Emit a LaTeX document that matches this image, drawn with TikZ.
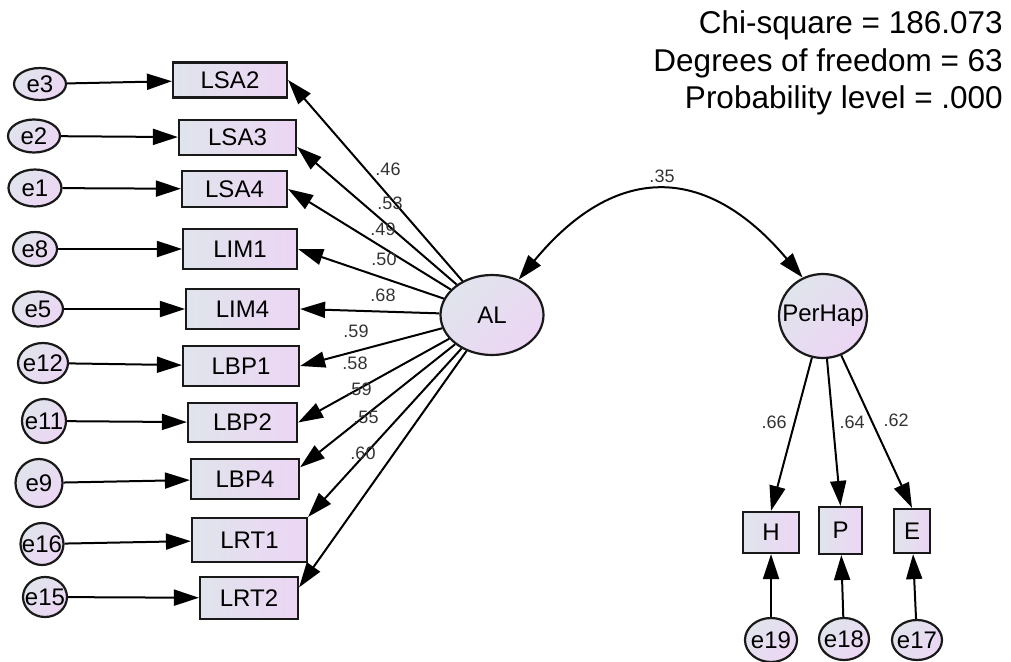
\documentclass[tikz,border=0pt]{standalone}
\usepackage{fontspec}
\setmainfont{Liberation Sans}
\usetikzlibrary{arrows.meta,shapes.geometric}
\definecolor{cA}{RGB}{224,228,236}
\definecolor{cB}{RGB}{236,214,244}
\newcommand\zb[1]{\makebox[0pt]{#1}}
\tikzset{
  obs/.style={draw=black!90, line width=2.2pt, rectangle, left color=cA, right color=cB,
    inner sep=0pt, font=\fontsize{24}{24}\selectfont},
  lat/.style={draw=black!90, line width=2.2pt, ellipse, top color=cA, bottom color=cB,
    shading angle=45, inner sep=0pt, font=\fontsize{24}{24}\selectfont},
  reg/.style={line width=2pt, -{Triangle[length=25pt,width=16pt]}},
  cov/.style={line width=2pt, {Triangle[length=25pt,width=16pt]}-{Triangle[length=25pt,width=16pt]}},
  lbl/.style={font=\fontsize{18}{18}\selectfont, text=black!80, inner sep=0pt},
  stat/.style={font=\fontsize{31.5}{31.5}\selectfont, anchor=base east, inner sep=0pt}
}
\begin{document}
\begin{tikzpicture}[x=1pt,y=-1pt]
\useasboundingbox (0,0) rectangle (1011,661);
% observed indicators
\node[obs, minimum width=114pt, minimum height=35pt] (LSA2) at (230,80) {LSA2};
\node[obs, minimum width=117pt, minimum height=35pt] (LSA3) at (237.5,137.5) {LSA3};
\node[obs, minimum width=105pt, minimum height=36pt] (LSA4) at (234.5,189) {LSA4};
\node[obs, minimum width=114pt, minimum height=40pt] (LIM1) at (240,249) {LIM1};
\node[obs, minimum width=113pt, minimum height=40pt] (LIM4) at (242.5,309) {LIM4};
\node[obs, minimum width=116pt, minimum height=40pt] (LBP1) at (241,366) {LBP1};
\node[obs, minimum width=109pt, minimum height=39pt] (LBP2) at (242.5,422.5) {LBP2};
\node[obs, minimum width=108pt, minimum height=40pt] (LBP4) at (245,479) {LBP4};
\node[obs, minimum width=115pt, minimum height=44pt] (LRT1) at (249.5,540) {LRT1};
\node[obs, minimum width=98pt, minimum height=42pt] (LRT2) at (249,598) {LRT2};
\node[obs, minimum width=56pt, minimum height=41pt] (H) at (771,532.5) {H};
\node[obs, minimum width=43pt, minimum height=47pt] (P) at (840.5,530.5) {P};
\node[obs, minimum width=36pt, minimum height=44pt] (E) at (912,531) {E};
% errors
\node[lat, minimum width=52pt, minimum height=32pt] (e3) at (40,84) {\zb{e3}};
\node[lat, minimum width=52pt, minimum height=33pt] (e2) at (34,136) {\zb{e2}};
\node[lat, minimum width=53pt, minimum height=37pt] (e1) at (35,188) {\zb{e1}};
\node[lat, minimum width=44pt, minimum height=34pt] (e8) at (35,249) {\zb{e8}};
\node[lat, minimum width=50pt, minimum height=35pt] (e5) at (38,309) {\zb{e5}};
\node[lat, minimum width=50pt, minimum height=40pt] (e12) at (43,363) {\zb{e12}};
\node[lat, minimum width=44pt, minimum height=44pt] (e11) at (44,421) {\zb{e11}};
\node[lat, minimum width=47pt, minimum height=48pt] (e9) at (39,483) {\zb{e9}};
\node[lat, minimum width=43pt, minimum height=42pt] (e16) at (42,544) {\zb{e16}};
\node[lat, minimum width=44pt, minimum height=40pt] (e15) at (45,597) {\zb{e15}};
\node[lat, minimum width=52pt, minimum height=44pt] (e19) at (771,640) {\zb{e19}};
\node[lat, minimum width=50pt, minimum height=42pt] (e18) at (844,639) {\zb{e18}};
\node[lat, minimum width=50pt, minimum height=40pt] (e17) at (917,640) {\zb{e17}};
% latent factors
\node[lat, minimum width=103pt, minimum height=80pt] (AL) at (492,315) {\zb{AL}};
\node[lat, minimum width=88pt, minimum height=84pt] (PerHap) at (823,316) {\zb{PerHap}};
% error paths
\draw[reg] (e3) -- (LSA2);
\draw[reg] (e2) -- (LSA3);
\draw[reg] (e1) -- (LSA4);
\draw[reg] (e8) -- (LIM1);
\draw[reg] (e5) -- (LIM4);
\draw[reg] (e12) -- (LBP1);
\draw[reg] (e11) -- (LBP2);
\draw[reg] (e9) -- (LBP4);
\draw[reg] (e16) -- (LRT1);
\draw[reg] (e15) -- (LRT2);
\draw[reg] (e19) -- (H);
\draw[reg] (e18) -- (P);
\draw[reg] (e17) -- (E);
% loadings
\draw[reg] (AL) -- (LSA2.east);
\draw[reg] (AL) -- (LSA3.-9);
\draw[reg] (AL) -- (LSA4.east);
\draw[reg] (AL) -- (LIM1.east);
\draw[reg] (AL) -- (LIM4.east);
\draw[reg] (AL) -- (LBP1.east);
\draw[reg] (AL) -- (LBP2.east);
\draw[reg] (AL) -- (LBP4.12);
\draw[reg] (AL) -- (LRT1.north east);
\draw[reg] (AL) -- (LRT2.12);
\draw[reg] (PerHap) -- (H.north);
\draw[reg] (PerHap) -- (P.north);
\draw[reg] (PerHap) -- (E.north);
% covariance
\draw[cov] (AL.53) .. controls (615,163) and (706,163) .. (PerHap.118);
% labels
\node[lbl] (l1) at (388,169) {.46};
\node[lbl] (l2) at (390,203) {.53};
\node[lbl] (l3) at (383,229) {.49};
\node[lbl] (l4) at (384,259) {.50};
\node[lbl] (l5) at (383,295) {.68};
\node[lbl] (l6) at (356,331) {.59};
\node[lbl] (l7) at (355,363) {.58};
\node[lbl] (l8) at (359,389) {.59};
\node[lbl] (l9) at (366,417) {.55};
\node[lbl] (l10) at (363,453) {.60};
\node[lbl] (l11) at (662,176) {.35};
\node[lbl] (l12) at (774,422) {.66};
\node[lbl] (l13) at (852,422) {.64};
\node[lbl] (l14) at (896,420) {.62};
% fit statistics
\node[stat] (s1) at (1003,34) {Chi-square = 186.073};
\node[stat] (s2) at (1003,71) {Degrees of freedom = 63};
\node[stat] (s3) at (1003,108) {Probability level = .000};
\end{tikzpicture}
\end{document}
